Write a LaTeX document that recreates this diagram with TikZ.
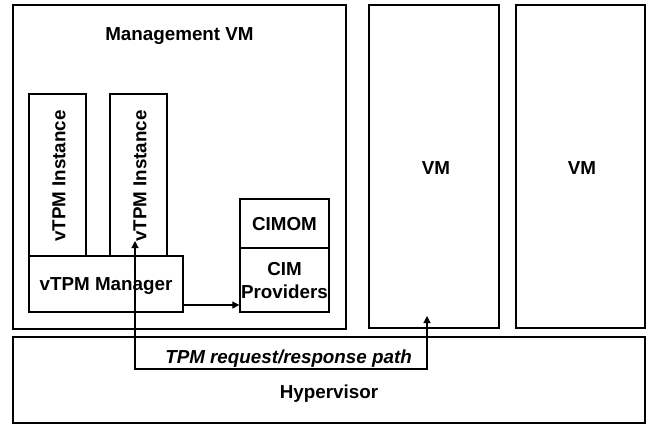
\documentclass[tikz,border=0pt]{standalone}
\usepackage{fontspec}
\setmainfont{Liberation Sans}
\usetikzlibrary{arrows.meta}
\begin{document}
\begin{tikzpicture}[x=1pt,y=-1pt,
  box/.style={draw,line width=1.4pt,rectangle,inner sep=0pt},
  lbl/.style={font=\fontsize{18.8}{21}\selectfont\bfseries,inner sep=0pt,align=center},
  conn/.style={line width=1.2pt,-{Triangle[length=7pt,width=7pt]}},
  conn2/.style={line width=1.2pt,{Triangle[length=7pt,width=7pt]}-{Triangle[length=7pt,width=7pt]}}]
\useasboundingbox (0,0) rectangle (647,424);
\node[box,minimum width=333pt,minimum height=324pt] (mgmt) at (179.5,167) {};
\node[lbl] (mgmtl) at (179.5,36) {Management VM};
\node[box,minimum width=57pt,minimum height=162pt] (inst1) at (57.5,175) {};
\node[box,minimum width=57pt,minimum height=162pt] (inst2) at (138.5,175) {};
\node[lbl,rotate=90] (inst1l) at (59,176) {vTPM Instance};
\node[lbl,rotate=90] (inst2l) at (140,176) {vTPM Instance};
\node[box,fill=white,minimum width=154pt,minimum height=56pt] (mgr) at (106,284) {};
\node[lbl] (mgrl) at (106,286) {vTPM Manager};
\node[box,minimum width=89pt,minimum height=49pt] (cimom) at (284.5,223.5) {};
\node[lbl] (cimoml) at (284.5,224) {CIMOM};
\node[box,minimum width=89pt,minimum height=64pt] (cimp) at (284.5,280) {};
\node[lbl] (cimpl) at (284.5,281) {CIM\\[2pt]Providers};
\node[box,minimum width=130pt,minimum height=323pt] (vm1) at (434,166.5) {};
\node[lbl] (vm1l) at (436,168) {VM};
\node[box,minimum width=129pt,minimum height=323pt] (vm2) at (580.5,166.5) {};
\node[lbl] (vm2l) at (582,168) {VM};
\node[box,minimum width=632pt,minimum height=86pt] (hyp) at (329,380) {};
\node[lbl] (hypl) at (329,394) {Hypervisor};
\draw[conn] (mgr.east |- 0,305) -- (cimp.west |- 0,305);
\coordinate (a) at (135,241);
\coordinate (b) at (135,369);
\coordinate (c) at (427,369);
\coordinate (d) at (427,316);
\draw[conn2] (a) -- (b) -- (c) -- (d);
\node[lbl,font=\fontsize{18.8}{21}\selectfont\bfseries\itshape,anchor=base east] (path) at (412,363) {TPM request/response path};
\end{tikzpicture}
\end{document}
